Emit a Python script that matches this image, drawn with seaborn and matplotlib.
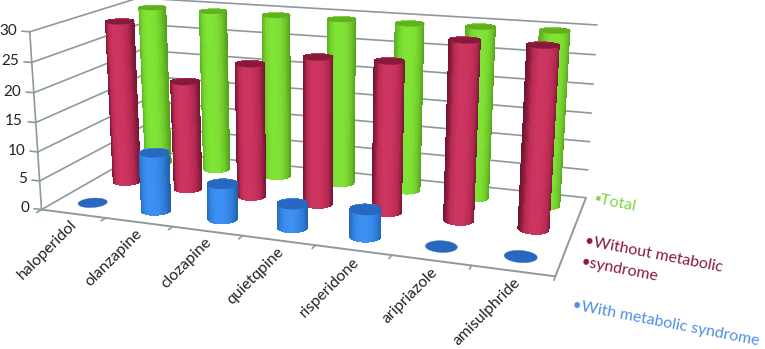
"""Cylinder chart of metabolic syndrome by antipsychotic, drawn on a 3D axes."""
import matplotlib

matplotlib.use("Agg")
import matplotlib.pyplot as plt
import numpy as np
import seaborn as sns
from mpl_toolkits.mplot3d import proj3d
from mpl_toolkits.mplot3d.art3d import Poly3DCollection

DRUGS = ["haloperidol", "olanzapine", "clozapine", "quietqpine",
         "risperidone", "aripriazole", "amisulphride"]
WITH_MS = [0, 10, 6, 4, 4.5, 0, 0]
WITHOUT_MS = [29, 19.3, 23.3, 25.3, 25.5, 29.7, 29.7]
TOTAL = [29.5, 29.5, 29.5, 29.5, 29.5, 29.7, 29.8]
Z_TICKS = [0, 5, 10, 15, 20, 25, 30]

RED_RAMP = ["#70142f", "#bb2c54", "#cc3560", "#cc3560", "#c6305a", "#b02850", "#761633"]
GREEN_RAMP = ["#5aae22", "#78d630", "#80e436", "#80e436", "#7cdc32", "#6fc62a", "#52a01c"]
BLUE_RAMP = ["#2568bc", "#3484e4", "#3c90f2", "#3c90f2", "#388aea", "#2f7cd8", "#2260ac"]
RED_CAP = "#861a3b"
GREEN_CAP = "#62b020"
BLUE_CAP = "#2868be"
GRID = "#8d9a9c"

ELEV, AZIM = 15, -70.5
RADIUS = 0.2

sns.set_theme(style="white")
plt.rcParams["font.family"] = ["Lato", "DejaVu Sans"]

fig = plt.figure(figsize=(7.65, 3.49), dpi=100)
# square axes centred on the vanishing geometry of the picture
ax = fig.add_axes([-0.098, -0.463, 1.0, 2.192], projection="3d", computed_zorder=False)
ax.set_facecolor("none")
ax.view_init(elev=ELEV, azim=AZIM)
ax.set_proj_type("persp", focal_length=0.276)
ax.set_box_aspect((1.41, 0.606, 0.5), zoom=0.743)


def draw_cylinder(cat, slot, value, ramp, cap, zorder):
    """One cylinder at category `cat`, depth slot `slot`, height `value`."""
    theta = np.linspace(0, 2 * np.pi, 73)
    cx, cy = cat + 0.5, slot + 0.5
    xs = cx + RADIUS * np.cos(theta)
    ys = cy + RADIUS * np.sin(theta)
    if value > 0:
        az = np.deg2rad(AZIM)
        mid = (theta[:-1] + theta[1:]) / 2
        # how far a strip sits towards the right of the camera
        side = -np.sin(az) * np.cos(mid) + np.cos(az) * np.sin(mid)
        cmap = sns.blend_palette(ramp, as_cmap=True)
        colors = cmap((side[None, :] + 1) / 2)
        ax.plot_surface(np.vstack([xs, xs]), np.vstack([ys, ys]),
                        np.vstack([np.zeros_like(xs), np.full_like(xs, value)]),
                        facecolors=colors, shade=False, rstride=1, cstride=1,
                        linewidth=0, antialiased=False, zorder=zorder)
    top = Poly3DCollection([np.column_stack([xs, ys, np.full_like(xs, value)])],
                           facecolor=cap, edgecolor=cap, linewidth=0.3, zorder=zorder + 0.5)
    ax.add_collection3d(top)


n_cat = len(DRUGS)
n_slot = 3
z_top = Z_TICKS[-1]

# walls and floor
for z in Z_TICKS:
    ax.plot([0, 0], [0, n_slot], [z, z], color=GRID, lw=1.2, zorder=1)
    ax.plot([0, n_cat], [n_slot, n_slot], [z, z], color=GRID, lw=1.2, zorder=1)
    ax.plot([-0.12, 0], [0, 0], [z, z], color=GRID, lw=1.2, zorder=1)
ax.plot([0, 0], [0, 0], [0, z_top], color=GRID, lw=1.2, zorder=1)
ax.plot([0, n_cat], [0, 0], [0, 0], color=GRID, lw=1.4, zorder=1)
ax.plot([n_cat, n_cat], [0, n_slot], [0, 0], color=GRID, lw=1.4, zorder=1)
for i in range(n_cat + 1):
    ax.plot([i, i], [0, -0.12], [0, 0], color=GRID, lw=1.2, zorder=1)

# back to front
zo = 2
for slot, values, ramp, cap in [(2, TOTAL, GREEN_RAMP, GREEN_CAP),
                                (1, WITHOUT_MS, RED_RAMP, RED_CAP),
                                (0, WITH_MS, BLUE_RAMP, BLUE_CAP)]:
    for i, value in enumerate(values):
        draw_cylinder(i, slot, value, ramp, cap, zo)
        zo += 1

ax.set_xlim(0, n_cat, view_margin=0)
ax.set_ylim(0, n_slot, view_margin=0)
ax.set_zlim(0, z_top, view_margin=0)
ax.set_axis_off()

# Text3D throws away its rotation, so labels go on the 2D plane of the axes
proj = ax.get_proj()
for z in Z_TICKS:
    tx, ty, _ = proj3d.proj_transform(-0.2, 0, z, proj)
    ax.text2D(tx, ty, str(z), transform=ax.transData, ha="right", va="center",
              fontsize=11, color="#222222")
for i, name in enumerate(DRUGS):
    tx, ty, _ = proj3d.proj_transform(i + 0.53, -0.15, 0, proj)
    ax.text2D(tx, ty, name, transform=ax.transData, rotation=45, ha="right", va="top",
              rotation_mode="anchor", fontsize=11.3, color="#222222")

# legend, tilted with the chart
legend = [(595, 199, "▪Total", "#7fd63c"),
          (585, 241, "•Without metabolic", "#8a1a3a"),
          (581, 262, "•syndrome", "#8a1a3a"),
          (572, 305, "•With metabolic syndrome", "#4f8fe6")]
for px, py, label, color in legend:
    fig.text(px / 765, 1 - py / 349, label, rotation=-11, rotation_mode="anchor",
             ha="left", va="center", fontsize=11.5, color=color)

fig.savefig("out.png", dpi=100)
